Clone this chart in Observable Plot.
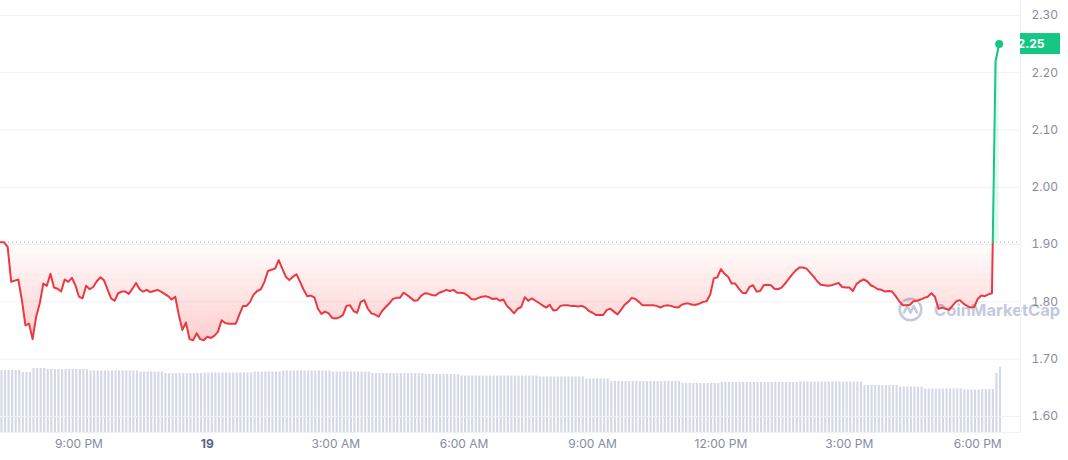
<!DOCTYPE html>
<html><head><meta charset="utf-8">
<script src="https://cdn.jsdelivr.net/npm/d3@7"></script>
<script src="https://cdn.jsdelivr.net/npm/@observablehq/plot@0.6"></script>
<style>
html,body{margin:0;padding:0;background:#fff;}
#wrap{position:relative;width:1068px;height:460px;overflow:hidden;font-family:Inter, sans-serif;}
#wrap svg.layer{position:absolute;left:0;top:0;}
#wm{position:absolute;left:898px;top:297px;display:flex;align-items:center;gap:11px;color:#bcc5da;font:700 16.5px Inter, sans-serif;opacity:.9;pointer-events:none;white-space:nowrap;}
</style></head><body><div id="wrap"></div>
<script>
// ---- data ----
const startUTC = Date.UTC(2023, 9, 18, 19, 10); // first sample
const stepMinutes = 5;
const prices = [
1.904,1.904,1.896,1.835,1.837,1.839,1.803,1.759,1.762,1.735,
1.774,1.797,1.832,1.828,1.849,1.825,1.823,1.818,1.839,1.835,
1.842,1.829,1.809,1.806,1.828,1.822,1.826,1.836,1.843,1.838,
1.822,1.806,1.802,1.815,1.818,1.818,1.814,1.823,1.833,1.822,
1.818,1.821,1.817,1.819,1.821,1.818,1.814,1.810,1.804,1.809,
1.777,1.751,1.764,1.735,1.733,1.745,1.735,1.733,1.739,1.737,
1.741,1.748,1.768,1.763,1.762,1.762,1.762,1.778,1.793,1.793,
1.800,
1.813,1.819,1.822,1.835,1.854,1.856,1.858,1.873,1.858,1.844,
1.838,1.844,1.848,1.835,1.821,1.810,1.811,1.808,1.788,1.779,
1.783,1.780,1.772,1.771,1.773,1.777,1.793,1.794,1.784,1.781,
1.800,1.803,1.788,1.780,1.778,1.774,1.784,1.791,1.797,1.805,
1.807,1.807,1.816,1.812,1.807,1.802,1.803,1.811,1.815,1.814,
1.812,1.811,1.816,1.818,1.821,1.819,1.821,1.816,1.816,1.815,
1.811,1.805,1.804,1.807,1.809,1.810,1.808,1.805,1.806,1.802,
1.804,1.793,1.787,1.780,1.788,1.791,1.808,1.802,1.806,1.802,
1.798,1.794,1.790,1.795,1.785,1.786,1.793,1.794,1.794,1.793,
1.793,1.792,1.793,1.790,1.784,1.781,1.777,1.777,1.777,1.786,
1.788,1.783,1.778,1.786,1.795,1.800,1.807,1.805,1.800,1.794,
1.794,1.794,1.794,1.793,1.790,1.793,1.794,1.793,1.791,1.790,
1.795,1.797,1.797,1.795,1.795,1.797,1.800,1.801,1.813,1.841,
1.843,1.857,1.849,1.844,1.832,1.832,1.823,1.816,1.815,1.826,
1.829,1.818,1.819,1.829,1.830,1.829,1.823,1.822,1.825,1.832,
1.840,1.848,1.855,1.860,1.860,1.858,1.851,1.844,1.836,1.830,
1.829,1.828,1.829,1.831,1.833,1.826,1.825,1.825,1.819,1.831,
1.836,1.839,1.836,1.829,1.826,1.822,1.821,1.818,1.819,1.818,
1.810,1.801,1.794,1.794,1.795,1.801,1.802,1.804,1.807,1.809,
1.815,1.809,1.788,1.790,1.788,1.786,1.794,1.801,1.803,1.797,
1.793,1.790,1.791,1.805,1.811,1.810,1.813,1.815,2.220,2.250
];
const volumes = [
124,124,124,124,124,124,120,120,120,128,
128,128,128,126,126,126,126,126,126,126,
126,126,126,126,126,123,123,123,123,123,
123,123,123,123,123,123,123,123,123,121,
121,121,121,121,121,121,118,118,118,118,
118,118,118,118,118,118,118,119,119,119,
119,119,119,119,119,119,119,119,119,119,
119,121,121,121,121,121,121,121,121,123,
123,123,123,123,123,123,123,123,123,123,
123,123,123,121,121,121,121,121,121,121,
121,121,121,121,118,118,118,118,118,118,
118,118,118,118,118,118,118,118,118,116,
116,116,116,116,116,116,116,116,116,113,
113,113,113,113,113,113,113,113,113,113,
113,113,113,113,113,113,113,113,113,113,
113,111,111,111,111,111,111,111,111,111,
111,111,111,111,107,107,107,107,107,107,
107,102,102,102,102,102,102,102,102,102,
102,102,102,102,102,102,102,102,102,102,
102,98,98,98,98,98,98,98,98,98,
98,98,100,100,100,100,100,100,100,100,
100,100,100,100,100,100,100,100,100,100,
100,100,100,100,101,101,101,101,101,101,
101,101,101,101,101,101,101,101,101,101,
101,101,94,94,94,94,94,94,94,94,
94,94,91,91,91,91,91,91,91,87,
87,87,87,87,87,87,87,87,87,87,
85,85,85,85,85,86,86,86,86,118,
130
];
const tickHours = [21, 24, 27, 30, 33, 36, 39, 42]; // hours after 18 Oct 00:00 UTC
const tickLabels = ["9:00 PM", "19", "3:00 AM", "6:00 AM", "9:00 AM", "12:00 PM", "3:00 PM", "6:00 PM"];
const boldLabels = ["19"];
const yTicks = [1.6, 1.7, 1.8, 1.9, 2.0, 2.1, 2.2, 2.3];
const lastLabel = "2.25";

// ---- build ----
const dayStart = Date.UTC(2023, 9, 18, 0, 0);
const data = prices.map((p, i) => ({t: new Date(startUTC + i * stepMinutes * 60000), p, v: volumes[i]}));
const ticks = tickHours.map((h, i) => ({t: new Date(dayStart + h * 3600000), label: tickLabels[i]}));
const base = prices[0];
const last = data[data.length - 1];

// split the series where it crosses the opening price (below = red, above = green)
const k = data.findIndex((d, i) => i > 1 && d.p > base);
const a = data[k - 1], b = data[k];
const f = (base - a.p) / (b.p - a.p);
const cross = {t: new Date(+a.t + f * (b.t - a.t)), p: base};
const down = [...data.slice(0, k), cross];
const up = [cross, ...data.slice(k)];

const xDomain = [new Date(startUTC), new Date(startUTC + 1430 * 60000)];
const W = 1068, H = 460;
const common = {width: W, height: H, marginLeft: 0, marginRight: 48, marginTop: 0, marginBottom: 28,
  x: {type: "utc", domain: xDomain, axis: null}};
const RED = "#ea3943", GREEN = "#16c784", GRID = "#eff2f5", LABEL = "#858ca2";

// fading fill: stacked translucent layers that deepen away from the opening price
const fadeLevels = d3.range(16).map(j => base - 0.011 * j);
const fadeMarks = fadeLevels.map(L =>
  Plot.area(down, {x1: "t", y1: () => L, y2: d => Math.min(d.p, L), fill: RED, fillOpacity: 0.0165}));

const volPlot = Plot.plot({
  ...common,
  y: {domain: [0, 864], axis: null},
  style: {background: "transparent"},
  marks: [
    Plot.rect(data, {x1: d => new Date(+d.t + 30000), x2: d => new Date(+d.t + 210000), y1: () => 0, y2: d => d.v, fill: "#d3d9e7"})
  ]
});

const main = Plot.plot({
  ...common,
  y: {domain: [1.572, 2.326], axis: "right", ticks: yTicks, tickFormat: d3.format(".2f"), tickSize: 0, tickPadding: 11, label: null},
  style: {background: "transparent", fontFamily: "Inter, sans-serif", fontSize: "12px", color: LABEL},
  marks: [
    Plot.ruleY(yTicks, {stroke: GRID}),
    Plot.ruleY([1.572], {stroke: GRID}),
    Plot.ruleX([xDomain[1]], {stroke: GRID}),
    ...fadeMarks,
    Plot.area(up, {x1: "t", y1: () => base, y2: "p", fill: GREEN, fillOpacity: 0.12}),
    Plot.ruleY([base], {stroke: "#a9b1c1", strokeDasharray: "1 3"}),
    Plot.line(down, {x: "t", y: "p", stroke: RED, strokeWidth: 2}),
    Plot.line(up, {x: "t", y: "p", stroke: GREEN, strokeWidth: 2}),
    Plot.dot([last], {x: "t", y: "p", r: 4, fill: GREEN}),
    Plot.text(ticks.filter(d => !boldLabels.includes(d.label)), {x: "t", text: "label", frameAnchor: "bottom", dy: 15, fill: LABEL}),
    Plot.text(ticks.filter(d => boldLabels.includes(d.label)), {x: "t", text: "label", frameAnchor: "bottom", dy: 15, fill: "#58667e", fontWeight: 700})
  ]
});

// current price tag on the right axis
const ys = main.scale("y");
const yl = ys.apply(last.p);
const svg = d3.select(main);
const tag = svg.append("g");
tag.append("rect").attr("x", W - 48).attr("y", yl - 10.5).attr("width", 40).attr("height", 21).attr("fill", GREEN);
tag.append("text").attr("x", W - 48 + 11).attr("y", yl).attr("dy", "0.35em").attr("fill", "#fff")
  .attr("font-weight", 700).attr("font-size", 12).attr("font-family", "Inter, sans-serif").text(lastLabel);

const wrap = document.getElementById("wrap");
volPlot.classList.add("layer");
main.classList.add("layer");
wrap.appendChild(volPlot);
const wm = document.createElement("div");
wm.id = "wm";
wm.innerHTML = '<svg width="25" height="25" viewBox="0 0 25 25"><circle cx="12.5" cy="12.5" r="10.8" fill="none" stroke="currentColor" stroke-width="2.6"/><path d="M6 15.5 L9.3 9 L12.5 15.5 L15.7 9 L19 15.5" fill="none" stroke="currentColor" stroke-width="2.6" stroke-linejoin="round" stroke-linecap="round"/></svg><span>CoinMarketCap</span>';
wrap.appendChild(wm);
wrap.appendChild(main);
</script>
</body></html>
